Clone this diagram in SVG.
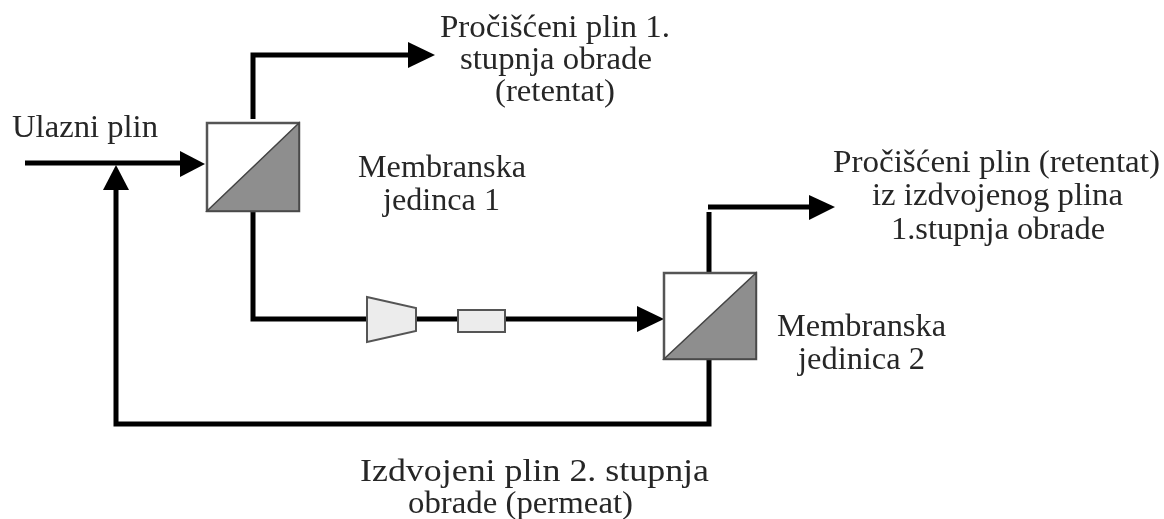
<svg xmlns="http://www.w3.org/2000/svg" width="1164" height="519" viewBox="0 0 1164 519">
<style>
text{font-family:"Liberation Serif","Times New Roman",serif;font-size:31px;fill:#262626}
.l{fill:none;stroke:#000;stroke-width:5}
.box{fill:#fff;stroke:#555;stroke-width:2.5}
.tri{fill:#8e8e8e;stroke:#444;stroke-width:1.5}
.eq{fill:#ececec;stroke:#555;stroke-width:2}
.a{fill:#000}
</style>
<defs><filter id="soft" x="0" y="0" width="100%" height="100%"><feGaussianBlur stdDeviation="0.45"/></filter></defs>
<rect width="1164" height="519" fill="#fff"/>
<g filter="url(#soft)">
<g id="connectors">
<path class="l" d="M25 163H182"/><polygon class="a" points="180,151 205,164 180,177"/>
<path class="l" d="M253 119V55H410"/><polygon class="a" points="408,42 435,55 408,68"/>
<path class="l" d="M253 211V319H368"/>
<path class="l" d="M416 319H458"/>
<path class="l" d="M505 319H640"/><polygon class="a" points="637,306 664,319 637,332"/>
<path class="l" d="M709 275V212"/><path class="l" d="M708 207H812"/><polygon class="a" points="809,195 835,207 809,220"/>
<path class="l" d="M709 359V424H116V188"/><polygon class="a" points="103,190 116,165 129,190"/>
</g>
<g id="membrane1"><rect class="box" x="207" y="123" width="92" height="88"/><polygon class="tri" points="299,123 299,211 207,211"/></g>
<g id="membrane2"><rect class="box" x="664" y="273" width="92" height="86"/><polygon class="tri" points="756,273 756,359 664,359"/></g>
<g id="compressor"><polygon class="eq" points="367,297 416,308 416,331 367,342"/></g>
<g id="cooler"><rect class="eq" x="458" y="310" width="47" height="22"/></g>
<g id="labels">
<text x="12" y="137" textLength="146" lengthAdjust="spacingAndGlyphs">Ulazni plin</text>
<text x="440" y="37" textLength="230" lengthAdjust="spacingAndGlyphs">Pročišćeni plin 1.</text>
<text x="460" y="69" textLength="192" lengthAdjust="spacingAndGlyphs">stupnja obrade</text>
<text x="495" y="101" textLength="120" lengthAdjust="spacingAndGlyphs">(retentat)</text>
<text x="358" y="177" textLength="168" lengthAdjust="spacingAndGlyphs">Membranska</text>
<text x="383" y="210" textLength="117" lengthAdjust="spacingAndGlyphs">jedinca 1</text>
<text x="833" y="172" textLength="327" lengthAdjust="spacingAndGlyphs">Pročišćeni plin (retentat)</text>
<text x="872" y="205" textLength="251" lengthAdjust="spacingAndGlyphs">iz izdvojenog plina</text>
<text x="891" y="239" textLength="214" lengthAdjust="spacingAndGlyphs">1.stupnja obrade</text>
<text x="777" y="336" textLength="169" lengthAdjust="spacingAndGlyphs">Membranska</text>
<text x="798" y="369" textLength="127" lengthAdjust="spacingAndGlyphs">jedinica 2</text>
<text x="360" y="481" textLength="349" lengthAdjust="spacingAndGlyphs">Izdvojeni plin 2. stupnja</text>
<text x="408" y="513" textLength="225" lengthAdjust="spacingAndGlyphs">obrade (permeat)</text>
</g>
</g>
</svg>
